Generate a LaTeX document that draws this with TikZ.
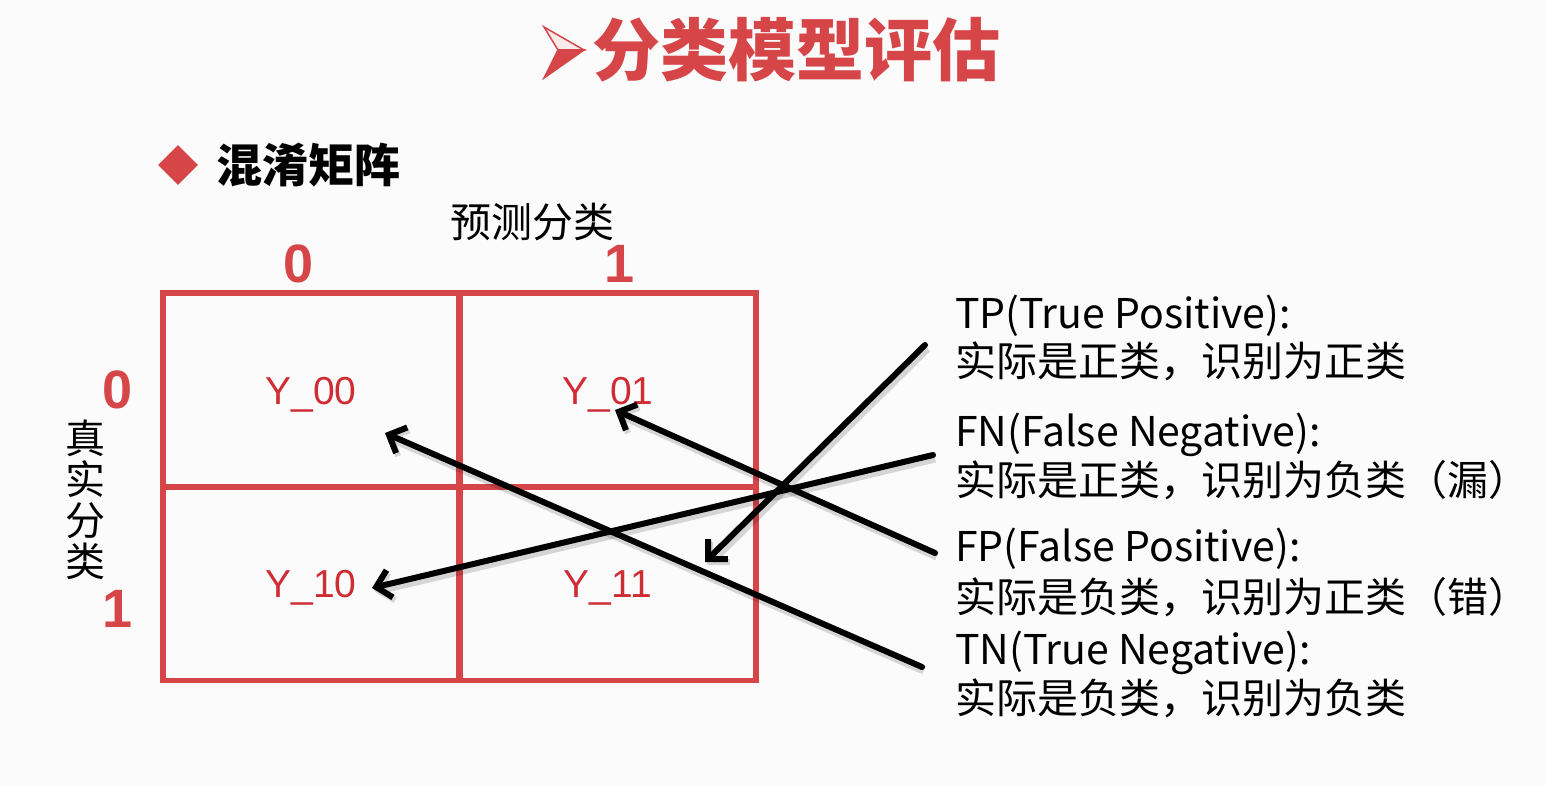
\documentclass[tikz,border=0pt]{standalone}
\usepackage{fontspec}
\usetikzlibrary{arrows.meta,shapes.geometric}
\setmainfont{Noto Sans CJK SC}
\newfontfamily\latinsans{Liberation Sans}
\definecolor{slidered}{RGB}{214,70,73}
\definecolor{cellred}{RGB}{206,45,52}
\definecolor{paper}{RGB}{251,251,251}

\begin{document}
\begin{tikzpicture}[x=1pt,y=-1pt,
  txt/.style={inner sep=0pt, outer sep=0pt, anchor=base west,
    font=\fontsize{41}{41}\selectfont},
  digit/.style={inner sep=0pt, anchor=base, text=slidered,
    font=\latinsans\bfseries\fontsize{54}{54}\selectfont},
  cell/.style={draw=slidered, line width=5.5pt, minimum width=296pt,
    minimum height=194pt, inner sep=0pt, text height=28pt, text depth=0pt,
    text=cellred, font=\latinsans\fontsize{39}{39}\selectfont},
  pointer/.style={line width=6pt, line cap=round,
    -{Straight Barb[length=14pt,width=28pt,line width=6pt]},
    preaction={draw=black, opacity=0.15, line width=9pt,
      transform canvas={shift={(2pt,-3pt)}}}}
]
% page
\path[use as bounding box, fill=paper] (0,0) rectangle (1545,786);

% title marker: a lit three-d arrowhead
\coordinate (mkTop) at (544,27);
\coordinate (mkTip) at (584,50);
\coordinate (mkNotch) at (558,50);
\coordinate (mkBottom) at (544,78);
\fill[slidered!12, draw=slidered, line width=1.5pt, line join=miter]
  (mkTop) -- (mkTip) -- (mkNotch) -- cycle;
\fill[slidered, draw=slidered, line width=1.5pt, line join=miter]
  (mkNotch) -- (mkTip) -- (mkBottom) -- cycle;

% title
\node[inner sep=0pt, anchor=west, text=slidered,
  font=\bfseries\fontsize{68}{68}\selectfont] (title) at (592,50) {分类模型评估};

% section heading
\node[diamond, fill=slidered, minimum width=40pt, minimum height=40pt,
  inner sep=0pt] (bullet) at (178,165) {};
\node[inner sep=0pt, anchor=west, font=\bfseries\fontsize{46}{46}\selectfont]
  (heading) at (216,165) {混淆矩阵};

% axis captions
\node[inner sep=0pt, font=\fontsize{41}{41}\selectfont] (pred) at (532,222) {预测分类};
\node[inner sep=0pt, align=center, font=\fontsize{40}{41}\selectfont]
  (truth) at (85,500) {真\\实\\分\\类};

% class digits
\node[digit] (col0) at (299,283) {0};
\node[digit] (col1) at (620,283) {1};
\node[digit] (row0) at (118,408) {0};
\node[digit] (row1) at (118,627) {1};

% matrix cells
\node[cell] (c00) at (311,390) {Y\_00};
\node[cell] (c01) at (608,390) {Y\_01};
\node[cell] (c10) at (311,583.5) {Y\_10};
\node[cell] (c11) at (608,583.5) {Y\_11};

% outcome descriptions
\node[txt] (tp)  at (955,329) {TP(True Positive):};
\node[txt] (tpd) at (955,377) {实际是正类，识别为正类};
\node[txt] (fn)  at (955,446) {FN(False Negative):};
\node[txt] (fnd) at (955,495) {实际是正类，识别为负类（漏）};
\node[txt] (fp)  at (955,561) {FP(False Positive):};
\node[txt] (fpd) at (955,612) {实际是负类，识别为正类（错）};
\node[txt] (tn)  at (955,664) {TN(True Negative):};
\node[txt] (tnd) at (955,713) {实际是负类，识别为负类};

% pointer ends
\coordinate (tpTail) at (925,345);
\coordinate (tpHead) at (705,562);
\coordinate (fnTail) at (933,455);
\coordinate (fnHead) at (372,588);
\coordinate (fpTail) at (935,553);
\coordinate (fpHead) at (615,410);
\coordinate (tnTail) at (922,667);
\coordinate (tnHead) at (385,433);

% pointers
\draw[pointer] (tpTail) -- (tpHead);
\draw[pointer] (fnTail) -- (fnHead);
\draw[pointer] (fpTail) -- (fpHead);
\draw[pointer] (tnTail) -- (tnHead);
\end{tikzpicture}
\end{document}
